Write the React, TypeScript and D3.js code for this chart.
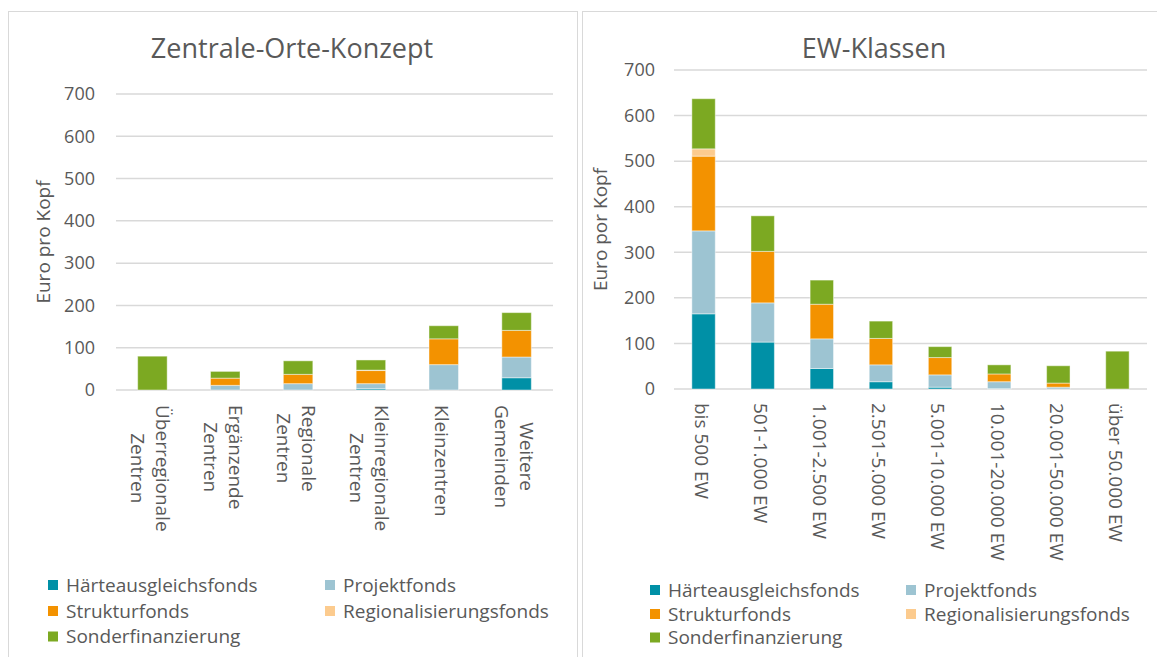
import React, { useEffect, useRef } from "react";
import * as d3 from "d3";

const seriesNames = [
  "Härteausgleichsfonds",
  "Projektfonds",
  "Strukturfonds",
  "Regionalisierungsfonds",
  "Sonderfinanzierung",
];
const seriesColors = ["#0090A6", "#9DC4D2", "#F39200", "#FCCB8E", "#7CA922"];
const yTicks = [0, 100, 200, 300, 400, 500, 600, 700];

// Left chart: Zentrale-Orte-Konzept
const leftTitle = "Zentrale-Orte-Konzept";
const leftYTitle = "Euro pro Kopf";
const leftCategories = [
  "Überregionale\nZentren",
  "Ergänzende\nZentren",
  "Regionale\nZentren",
  "Kleinregionale\nZentren",
  "Kleinzentren",
  "Weitere\nGemeinden",
];
const leftHaerte = [0, 0, 0, 3, 0, 29];
const leftProjekt = [0, 11, 15, 12, 60, 49];
const leftStruktur = [0, 17, 22, 31, 61, 63];
const leftRegional = [0, 0, 0, 1, 0, 0];
const leftSonder = [80, 16, 32, 24, 31, 42];

// Right chart: EW-Klassen
const rightTitle = "EW-Klassen";
const rightYTitle = "Euro por Kopf";
const rightCategories = [
  "bis 500 EW",
  "501-1.000 EW",
  "1.001-2.500 EW",
  "2.501-5.000 EW",
  "5.001-10.000 EW",
  "10.001-20.000 EW",
  "20.001-50.000 EW",
  "über 50.000 EW",
];
const rightHaerte = [165, 103, 45, 16, 4, 1, 0, 0];
const rightProjekt = [182, 86, 65, 37, 27, 15, 4, 0];
const rightStruktur = [164, 113, 76, 58, 38, 17, 9, 0];
const rightRegional = [16, 0, 0, 0, 0, 0, 0, 0];
const rightSonder = [110, 78, 53, 38, 24, 20, 38, 83];

const FONT = "'Open Sans', 'Noto Sans', sans-serif";
const TEXT = "#595959";
const GRID = "#D9D9D9";

type Layout = {
  panelX: number;
  panelW: number;
  x0: number;
  x1: number;
  yTop: number;
  yBottom: number;
  titleX: number;
  tickX: number;
  yTitleX: number;
  labelTop: number;
  legendCols: number[];
  legendRows: number[];
  padding: number;
};

type ChartCfg = {
  title: string;
  yTitle: string;
  categories: string[];
  series: number[][];
  layout: Layout;
};

function drawChart(root: d3.Selection<SVGGElement, unknown, null, undefined>, cfg: ChartCfg) {
  const L = cfg.layout;
  const g = root.append("g");

  g.append("rect")
    .attr("x", L.panelX + 0.5)
    .attr("y", 11.5)
    .attr("width", L.panelW)
    .attr("height", 700)
    .attr("fill", "#ffffff")
    .attr("stroke", GRID)
    .attr("stroke-width", 1);

  g.append("text")
    .attr("x", L.titleX)
    .attr("y", 58)
    .attr("text-anchor", "middle")
    .attr("font-family", FONT)
    .attr("font-size", 27)
    .attr("fill", TEXT)
    .text(cfg.title);

  const y = d3.scaleLinear().domain([0, 700]).range([L.yBottom, L.yTop]);
  const x = d3
    .scaleBand<string>()
    .domain(cfg.categories)
    .range([L.x0, L.x1])
    .paddingInner(L.padding)
    .paddingOuter(L.padding / 2);

  // gridlines
  g.append("g")
    .selectAll("line")
    .data(yTicks)
    .join("line")
    .attr("x1", L.x0)
    .attr("x2", L.x1)
    .attr("y1", (d) => y(d))
    .attr("y2", (d) => y(d))
    .attr("stroke", GRID)
    .attr("stroke-width", 1.5);

  // tick labels
  g.append("g")
    .selectAll("text")
    .data(yTicks)
    .join("text")
    .attr("x", L.tickX)
    .attr("y", (d) => y(d))
    .attr("dy", "0.35em")
    .attr("text-anchor", "end")
    .attr("font-family", FONT)
    .attr("font-size", 18)
    .attr("fill", TEXT)
    .text((d) => String(d));

  // y title
  g.append("text")
    .attr("transform", `translate(${L.yTitleX},${(L.yTop + L.yBottom) / 2}) rotate(-90)`)
    .attr("text-anchor", "middle")
    .attr("dy", "0.35em")
    .attr("font-family", FONT)
    .attr("font-size", 19)
    .attr("fill", TEXT)
    .text(cfg.yTitle);

  // stacked bars
  const rows = cfg.categories.map((c, i) => {
    const r: Record<string, any> = { cat: c };
    seriesNames.forEach((s, k) => (r[s] = cfg.series[k][i]));
    return r;
  });
  const stacked = d3.stack<Record<string, any>>().keys(seriesNames)(rows);
  stacked.forEach((layer, k) => {
    g.append("g")
      .selectAll("rect")
      .data(layer.filter((d) => d[1] - d[0] > 0))
      .join("rect")
      .attr("x", (d) => x(d.data.cat as string)!)
      .attr("width", x.bandwidth())
      .attr("y", (d) => y(d[1]))
      .attr("height", (d) => y(d[0]) - y(d[1]))
      .attr("fill", seriesColors[k])
      .attr("stroke", "rgba(255,255,255,0.45)")
      .attr("stroke-width", 1);
  });

  // category labels (rotated, reading top to bottom)
  const lh = 25;
  cfg.categories.forEach((cat) => {
    const lines = cat.split("\n");
    const cx = x(cat)! + x.bandwidth() / 2 - 2;
    const lg = g
      .append("g")
      .attr("transform", `translate(${cx},${L.labelTop}) rotate(90)`);
    const texts = lines.map((ln, i) =>
      lg
        .append("text")
        .attr("x", 0)
        .attr("y", (i - (lines.length - 1) / 2) * lh)
        .attr("dy", "0.35em")
        .attr("font-family", FONT)
        .attr("font-size", 19)
        .attr("fill", TEXT)
        .text(ln)
    );
    const lens = texts.map((t) => (t.node() as SVGTextElement).getComputedTextLength());
    const maxLen = Math.max(...lens);
    texts.forEach((t, i) => t.attr("x", (maxLen - lens[i]) / 2));
  });

  // legend
  seriesNames.forEach((name, i) => {
    const col = i % 2;
    const row = Math.floor(i / 2);
    const lx = L.legendCols[col];
    const ly = L.legendRows[row];
    g.append("rect")
      .attr("x", lx)
      .attr("y", ly - 5)
      .attr("width", 10)
      .attr("height", 10)
      .attr("fill", seriesColors[i]);
    g.append("text")
      .attr("x", lx + 18)
      .attr("y", ly)
      .attr("dy", "0.35em")
      .attr("font-family", FONT)
      .attr("font-size", 19)
      .attr("fill", TEXT)
      .text(name);
  });
}

export default function App() {
  const ref = useRef<SVGSVGElement>(null);

  useEffect(() => {
    if (!ref.current) return;
    const svg = d3.select(ref.current);
    svg.selectAll("*").remove();
    const root = svg.append("g") as d3.Selection<SVGGElement, unknown, null, undefined>;

    drawChart(root, {
      title: leftTitle,
      yTitle: leftYTitle,
      categories: leftCategories,
      series: [leftHaerte, leftProjekt, leftStruktur, leftRegional, leftSonder],
      layout: {
        panelX: 8,
        panelW: 569,
        x0: 116,
        x1: 553,
        yTop: 94,
        yBottom: 390,
        titleX: 292,
        tickX: 95,
        yTitleX: 43,
        labelTop: 405,
        legendCols: [48, 325],
        legendRows: [585, 611, 636.5],
        padding: 0.595,
      },
    });

    drawChart(root, {
      title: rightTitle,
      yTitle: rightYTitle,
      categories: rightCategories,
      series: [rightHaerte, rightProjekt, rightStruktur, rightRegional, rightSonder],
      layout: {
        panelX: 582,
        panelW: 600,
        x0: 674,
        x1: 1147,
        yTop: 70,
        yBottom: 389,
        titleX: 874,
        tickX: 655,
        yTitleX: 600,
        labelTop: 403,
        legendCols: [650, 906],
        legendRows: [590, 614, 637.5],
        padding: 0.604,
      },
    });
  }, []);

  return (
    <svg
      ref={ref}
      width={1157}
      height={657}
      style={{ position: "absolute", left: 0, top: 0, display: "block", background: "#ffffff" }}
    />
  );
}
